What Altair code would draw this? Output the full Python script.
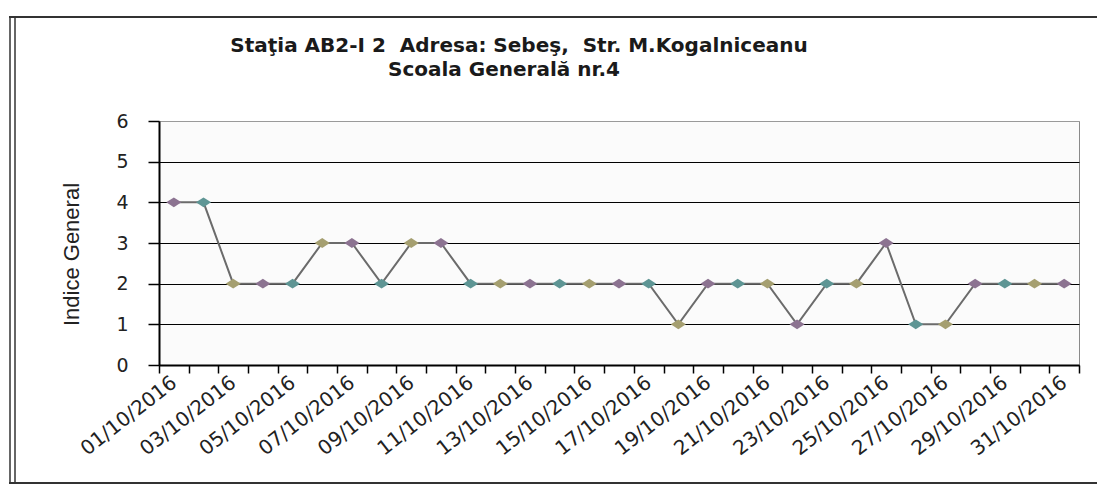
import altair as alt
import pandas as pd

dates = ["01/10/2016", "02/10/2016", "03/10/2016", "04/10/2016", "05/10/2016",
         "06/10/2016", "07/10/2016", "08/10/2016", "09/10/2016", "10/10/2016",
         "11/10/2016", "12/10/2016", "13/10/2016", "14/10/2016", "15/10/2016",
         "16/10/2016", "17/10/2016", "18/10/2016", "19/10/2016", "20/10/2016",
         "21/10/2016", "22/10/2016", "23/10/2016", "24/10/2016", "25/10/2016",
         "26/10/2016", "27/10/2016", "28/10/2016", "29/10/2016", "30/10/2016",
         "31/10/2016"]
values = [4, 4, 2, 2, 2, 3, 3, 2, 3, 3,
          2, 2, 2, 2, 2, 2, 2, 1, 2, 2,
          2, 1, 2, 2, 3, 1, 1, 2, 2, 2,
          2]
title_lines = ["Staţia AB2-I 2\u00a0\u00a0Adresa: Sebeş, \u00a0Str. M.Kogalniceanu",
               "Scoala Generală nr.4"]
y_title = "Indice General"
y_ticks = [0, 1, 2, 3, 4, 5, 6]
palette = ["#8c7391", "#5e9594", "#a59f70"]

W, H = 920, 244

df = pd.DataFrame({"date": dates, "value": values, "i": list(range(len(dates)))})

x_enc = alt.X(
    "date:N", sort=dates,
    scale=alt.Scale(type="band", paddingInner=0, paddingOuter=0),
    axis=alt.Axis(
        title=None, labelAngle=-38, labelAlign="right", labelBaseline="middle",
        labelExpr="parseInt(substring(datum.value,0,2)) % 2 == 1 ? datum.value : ''",
        labelOverlap=False, tickBand="extent", tickSize=8, tickColor="black",
        tickWidth=1.5, domainColor="black", domainWidth=2,
        labelFont="DejaVu Sans", labelFontSize=20, labelColor="#222222",
        labelPadding=7, grid=False,
    ),
)
y_enc = alt.Y(
    "value:Q",
    scale=alt.Scale(domain=[0, 6], nice=False),
    axis=alt.Axis(
        values=y_ticks, title=y_title, titleX=-76, titleY=133, titleAngle=-90,
        titleBaseline="bottom", titleAlign="center", titleFont="Liberation Sans",
        titleFontSize=22, titleFontWeight="normal", titleColor="#222222",
        labelFont="DejaVu Sans", labelFontSize=19, labelColor="#222222",
        labelPadding=20, tickSize=11, tickColor="black", tickWidth=1.5,
        domainColor="black", domainWidth=2,
        gridColor={"condition": {"test": "datum.value === 6", "value": "#9a9a9a"},
                   "value": "black"},
        gridWidth=1,
    ),
)

base = alt.Chart(df)
line = base.mark_line(color="#6b6b6b", strokeWidth=2).encode(x=x_enc, y=y_enc)
points = base.mark_point(
    shape="M-1,0L0,-0.65L1,0L0,0.65Z", filled=True, size=230, opacity=1
).transform_calculate(ci="'c' + (datum.i % 3)").encode(
    x=x_enc, y=y_enc,
    color=alt.Color("ci:N", scale=alt.Scale(domain=["c0", "c1", "c2"], range=palette),
                    legend=None),
)

one = pd.DataFrame({"a": [0]})
frame_left1 = alt.Chart(one).mark_rule(color="#333333", strokeWidth=1.5).encode(
    x=alt.value(-149), y=alt.value(-104), y2=alt.value(362))
frame_left2 = alt.Chart(one).mark_rule(color="#333333", strokeWidth=1.5).encode(
    x=alt.value(-144), y=alt.value(-104), y2=alt.value(362))
frame_top = alt.Chart(one).mark_rule(color="#333333", strokeWidth=2).encode(
    x=alt.value(-150), x2=alt.value(938), y=alt.value(-104))
frame_bottom = alt.Chart(one).mark_rule(color="#333333", strokeWidth=2).encode(
    x=alt.value(-150), x2=alt.value(938), y=alt.value(362))

t1 = alt.Chart(pd.DataFrame({"t": [title_lines[0]]})).mark_text(
    font="DejaVu Sans", fontSize=20, fontWeight="bold", align="center",
    baseline="alphabetic", color="#1a1a1a"
).encode(x=alt.value(360), y=alt.value(-69), text="t:N")
t2 = alt.Chart(pd.DataFrame({"t": [title_lines[1]]})).mark_text(
    font="DejaVu Sans", fontSize=20, fontWeight="bold", align="center",
    baseline="alphabetic", color="#1a1a1a"
).encode(x=alt.value(345), y=alt.value(-45), text="t:N")

chart = alt.layer(
    frame_left1, frame_left2, frame_top, frame_bottom, t1, t2, line, points
).properties(
    width=W, height=H,
    padding={"left": 0, "top": 8, "right": 0, "bottom": 0},
    background="white",
).configure_view(stroke="#8a8a8a", strokeWidth=1, fill="#fbfbfb")

chart.save("out.html", embed_options={"renderer": "svg", "actions": False})
